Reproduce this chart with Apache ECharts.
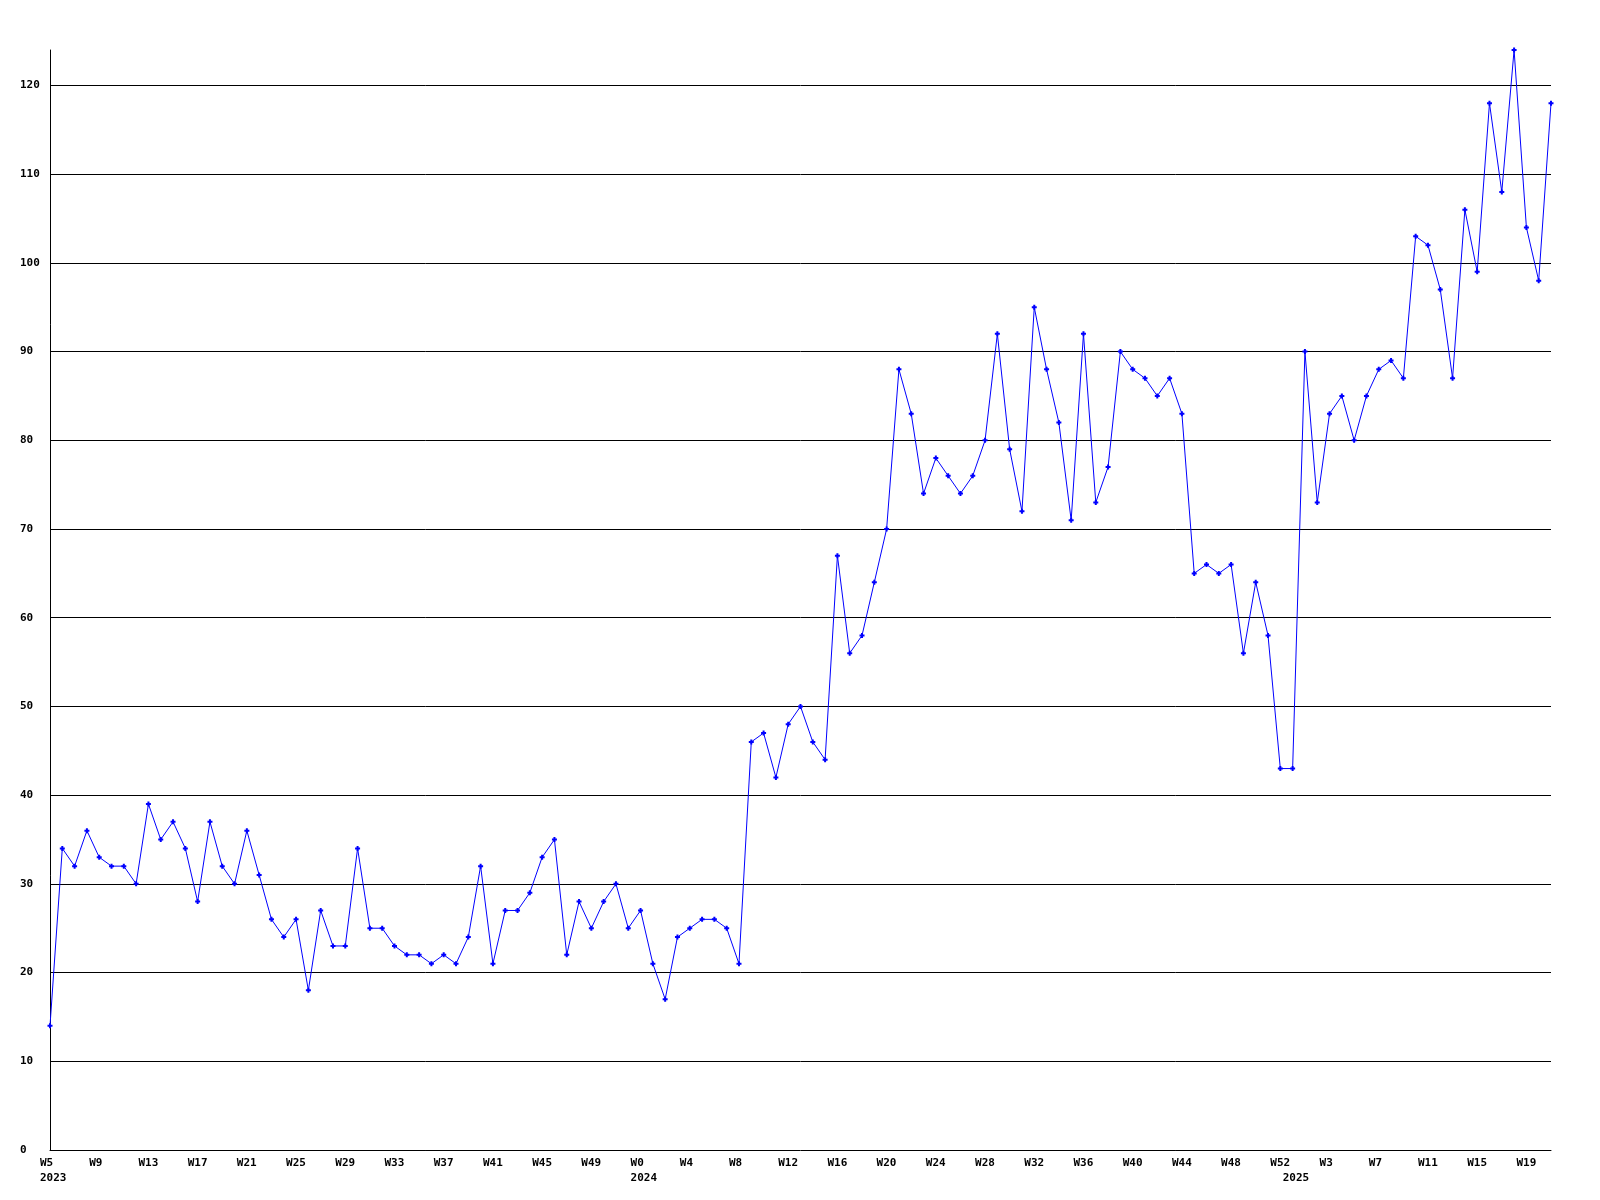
<!DOCTYPE html>
<html>
<head>
<meta charset="utf-8">
<script src="https://cdn.jsdelivr.net/npm/echarts@6/dist/echarts.min.js"></script>
<style>
html,body{margin:0;padding:0;background:#fff;}
#chart{width:1600px;height:1200px;}
</style>
</head>
<body>
<div id="chart"></div>
<script>
// Week segments: [year, firstWeek, lastWeek]
const yearSegments = [[2023, 5, 52], [2024, 0, 52], [2025, 0, 21]];

// Weekly values
const values2023 = [14, 34, 32, 36, 33, 32, 32, 30, 39, 35, 37, 34, 28, 37, 32, 30,
  36, 31, 26, 24, 26, 18, 27, 23, 23, 34, 25, 25, 23, 22, 22, 21,
  22, 21, 24, 32, 21, 27, 27, 29, 33, 35, 22, 28, 25, 28, 30, 25];
const values2024 = [27, 21, 17, 24, 25, 26, 26, 25, 21, 46, 47, 42, 48, 50, 46, 44,
  67, 56, 58, 64, 70, 88, 83, 74, 78, 76, 74, 76, 80, 92, 79, 72,
  95, 88, 82, 71, 92, 73, 77, 90, 88, 87, 85, 87, 83, 65, 66, 65,
  66, 56, 64, 58, 43];
const values2025 = [43, 90, 73, 83, 85, 80, 85, 88, 89, 87, 103, 102, 97, 87, 106, 99,
  118, 108, 124, 104, 98, 118];

const yTicks = { min: 0, max: 124, interval: 10 };

// Build categories
const categories = [];
const yearStart = {};
yearSegments.forEach(([y, a, b]) => {
  yearStart[categories.length] = y;
  for (let w = a; w <= b; w++) categories.push('W' + w);
});
const values = values2023.concat(values2024, values2025);

const chart = echarts.init(document.getElementById('chart'), null, { renderer: 'canvas' });
const font = { fontFamily: 'DejaVu Sans Mono', fontWeight: 'bold', fontSize: 11, color: '#000' };

chart.setOption({
  backgroundColor: '#fff',
  animation: false,
  grid: { left: 50, right: 49, top: 50, bottom: 50, containLabel: false },
  xAxis: {
    type: 'category',
    data: categories,
    boundaryGap: false,
    axisLine: { lineStyle: { color: '#000', width: 1 } },
    axisTick: { show: false },
    splitLine: { show: false },
    axisLabel: Object.assign({}, font, {
      interval: (i) => i % 4 === 0 || i === 101,
      align: 'left',
      padding: [0, 0, 0, -10],
      margin: 6,
      lineHeight: 15,
      formatter: (v, i) => {
        if (yearStart[i] !== undefined) {
          return (i % 4 === 0 ? v : ' ') + '\n' + yearStart[i];
        }
        return v;
      }
    })
  },
  yAxis: {
    type: 'value',
    min: yTicks.min,
    max: yTicks.max,
    interval: yTicks.interval,
    axisLine: { show: true, lineStyle: { color: '#000', width: 1 } },
    axisTick: { show: false },
    splitLine: { show: true, showMinLine: false, showMaxLine: false, lineStyle: { color: '#000', width: 1 } },
    axisLabel: Object.assign({}, font, {
      align: 'left',
      margin: 30,
      showMaxLabel: false
    })
  },
  series: [{
    type: 'line',
    data: values,
    lineStyle: { color: '#0000ff', width: 1 },
    itemStyle: { color: '#0000ff' },
    symbol: 'path://M1.5,0H3.5V1.5H5V3.5H3.5V5H1.5V3.5H0V1.5H1.5Z',
    symbolSize: 5,
    showSymbol: true,
    showAllSymbol: true
  }]
});
</script>
</body>
</html>
